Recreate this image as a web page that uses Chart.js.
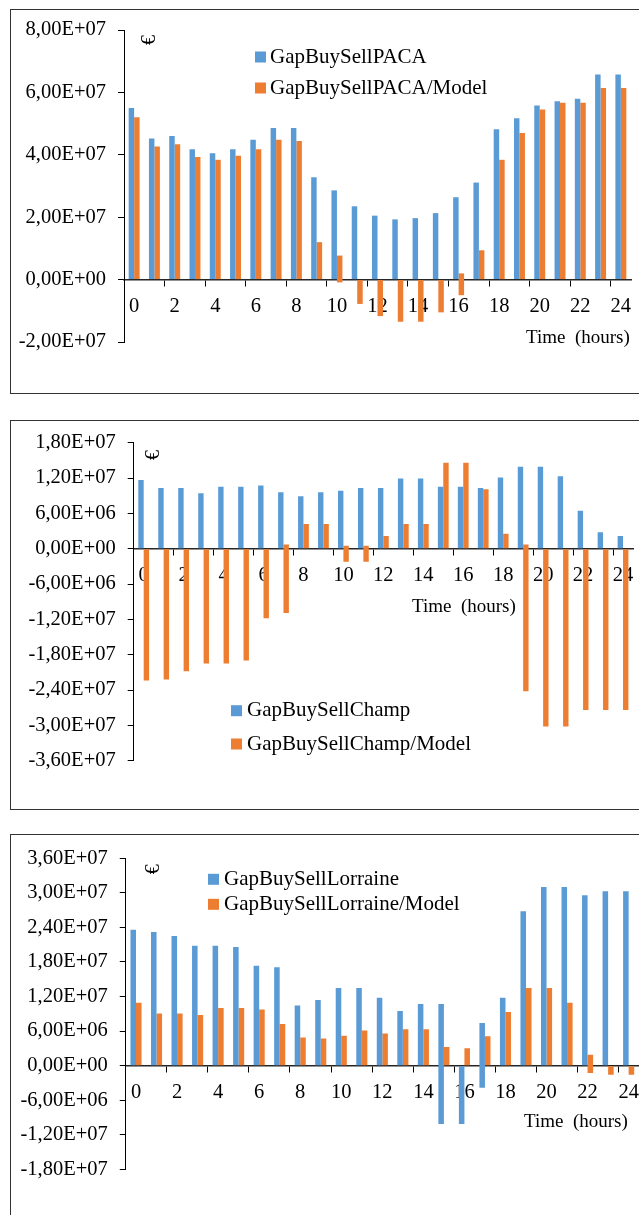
<!DOCTYPE html>
<html lang="fr">
<head>
<meta charset="UTF-8">
<title>GapBuySell</title>
<script src="https://cdn.jsdelivr.net/npm/chart.js@4"></script>
<style>
  html, body { margin: 0; padding: 0; background: #fff; }
  body { width: 639px; height: 1215px; overflow: hidden; position: relative; }
  .frame { position: absolute; left: 10.25px; width: 700px; box-sizing: border-box; border: 1.5px solid #333; }
  canvas { position: absolute; left: 0; }
</style>
</head>
<body>
<div class="frame" style="top:8.5px;height:385px"></div>
<div class="frame" style="top:420.25px;height:389.8px"></div>
<div class="frame" style="top:834.25px;height:500px"></div>
<canvas id="paca" width="660" height="400" style="top:0"></canvas>
<canvas id="champ" width="660" height="412" style="top:400px"></canvas>
<canvas id="lorraine" width="660" height="403" style="top:812px"></canvas>

<script>
// hours on the x axis, labels shown every 2 hours
const hours = ['0','1','2','3','4','5','6','7','8','9','10','11','12','13','14','15','16','17','18','19','20','21','22','23','24'];
const shownHours = ['0','2','4','6','8','10','12','14','16','18','20','22','24'];

// PACA (a pair [low, high] is a bar that crosses zero)
const pacaGap = [5.50e7, 4.52e7, 4.60e7, 4.18e7, 4.05e7, 4.18e7, 4.48e7, 4.86e7, 4.86e7, 3.28e7, 2.86e7, 2.35e7, 2.05e7,
                 1.93e7, 1.97e7, 2.13e7, 2.64e7, 3.11e7, 4.82e7, 5.17e7, 5.58e7, 5.72e7, 5.80e7, 6.57e7, 6.57e7];
const pacaModel = [5.20e7, 4.27e7, 4.34e7, 3.93e7, 3.84e7, 3.97e7, 4.18e7, 4.48e7, 4.44e7, 1.20e7, [-0.09e7, 0.77e7], -0.78e7, -1.17e7,
                   -1.35e7, -1.35e7, -1.05e7, [-0.50e7, 0.20e7], 0.94e7, 3.84e7, 4.70e7, 5.45e7, 5.67e7, 5.67e7, 6.14e7, 6.14e7];
const pacaTicks = [-2e7, 0, 2e7, 4e7, 6e7, 8e7];

// Champagne
const champGap = [1.166e7, 1.03e7, 1.03e7, 0.94e7, 1.05e7, 1.05e7, 1.075e7, 0.96e7, 0.89e7, 0.96e7, 0.985e7, 1.03e7, 1.03e7,
                  1.19e7, 1.19e7, 1.05e7, 1.05e7, 1.03e7, 1.21e7, 1.39e7, 1.39e7, 1.23e7, 0.645e7, 0.28e7, 0.215e7];
const champModel = [-2.24e7, -2.22e7, -2.08e7, -1.95e7, -1.95e7, -1.90e7, -1.18e7, [-1.09e7, 0.07e7], 0.42e7, 0.42e7, [-0.22e7, 0.05e7], [-0.22e7, 0.05e7], 0.215e7,
                    0.42e7, 0.42e7, 1.46e7, 1.46e7, 1.01e7, 0.255e7, [-2.42e7, 0.07e7], -3.02e7, -3.02e7, -2.74e7, -2.74e7, -2.74e7];
const champTicks = [-3.6e7, -3.0e7, -2.4e7, -1.8e7, -1.2e7, -6e6, 0, 6e6, 1.2e7, 1.8e7];

// Lorraine
const lorGap = [2.36e7, 2.32e7, 2.25e7, 2.08e7, 2.08e7, 2.06e7, 1.735e7, 1.71e7, 1.045e7, 1.14e7, 1.35e7, 1.35e7, 1.18e7,
                0.95e7, 1.07e7, [-1.015e7, 1.07e7], -1.015e7, [-0.385e7, 0.74e7], 1.18e7, 2.68e7, 3.10e7, 3.10e7, 2.96e7, 3.03e7, 3.03e7];
const lorModel = [1.09e7, 0.905e7, 0.905e7, 0.88e7, 1.0e7, 1.0e7, 0.975e7, 0.725e7, 0.49e7, 0.47e7, 0.52e7, 0.61e7, 0.56e7,
                  0.63e7, 0.63e7, 0.325e7, 0.30e7, 0.51e7, 0.93e7, 1.35e7, 1.35e7, 1.09e7, [-0.13e7, 0.19e7], -0.16e7, -0.16e7];
const lorTicks = [-1.8e7, -1.2e7, -6e6, 0, 6e6, 1.2e7, 1.8e7, 2.4e7, 3.0e7, 3.6e7];

const BLUE = '#5B9BD5';
const ORANGE = '#ED7D31';
const FONT = '"Liberation Serif", "Times New Roman", serif';

Chart.defaults.font.family = FONT;
Chart.defaults.color = '#000';

// 8,00E+07 style
function sci(v) {
    if (Math.abs(v) < 1) return '0,00E+00';
    const e = Math.floor(Math.log10(Math.abs(v)) + 1e-9);
    const m = v / Math.pow(10, e);
    return m.toFixed(2).replace('.', ',') + 'E' + (e < 0 ? '-' : '+') + String(Math.abs(e)).padStart(2, '0');
}

// euro sign, "Time (hours)" and the legend
const notes = {
    id: 'notes',
    afterDraw(chart, args, o) {
        const ctx = chart.ctx;
        ctx.save();
        ctx.fillStyle = '#000';

        ctx.save();
        ctx.font = '20px ' + FONT;
        ctx.translate(o.euro[0], o.euro[1]);
        ctx.rotate(-Math.PI / 2);
        ctx.textAlign = 'center';
        ctx.textBaseline = 'middle';
        ctx.fillText('€', 0, 0);
        ctx.restore();

        ctx.font = '19px ' + FONT;
        ctx.textAlign = 'left';
        ctx.textBaseline = 'middle';
        ctx.fillText('Time  (hours)', o.time[0], o.time[1]);

        ctx.font = '21px ' + FONT;
        chart.data.datasets.forEach((ds, i) => {
            const y = o.legend.rows[i];
            ctx.fillStyle = ds.backgroundColor;
            ctx.fillRect(o.legend.box, y - 5.5, 11, 11);
            ctx.fillStyle = '#000';
            ctx.fillText(ds.label, o.legend.text, y);
        });
        ctx.restore();
    }
};

// y axis box is 118px wide; padding.left puts the axis line where the reference has it
function makeChart(id, name, gap, model, ticks, pad, noteOpts) {
    return new Chart(document.getElementById(id), {
        type: 'bar',
        data: {
            labels: hours,
            datasets: [
                { label: 'GapBuySell' + name, data: gap, backgroundColor: BLUE },
                { label: 'GapBuySell' + name + '/Model', data: model, backgroundColor: ORANGE }
            ]
        },
        options: {
            responsive: false,
            animation: false,
            layout: { padding: pad },
            categoryPercentage: 0.54,
            barPercentage: 1.0,
            plugins: {
                legend: { display: false },
                tooltip: { enabled: false },
                notes: noteOpts
            },
            scales: {
                x: {
                    position: { y: 0 },
                    z: 1,
                    afterFit: s => { s.height = 0; },
                    border: { display: true, color: '#262626', width: 1.5 },
                    grid: {
                        drawOnChartArea: false,
                        drawTicks: true,
                        tickLength: 6,
                        tickWidth: 1,
                        tickColor: c => (c.index > 0 && c.index % 2 === 0) ? '#000' : 'rgba(0,0,0,0)'
                    },
                    ticks: {
                        autoSkip: false,
                        maxRotation: 0,
                        minRotation: 0,
                        padding: 9,
                        font: { size: 20.5 },
                        callback: function (v, i) {
                            const lab = this.getLabelForValue(v);
                            return shownHours.includes(lab) ? lab : '';
                        }
                    }
                },
                y: {
                    min: ticks[0],
                    max: ticks[ticks.length - 1],
                    afterFit: s => { s.width = 118; },
                    afterBuildTicks: s => { s.ticks = ticks.map(v => ({ value: v })); },
                    border: { display: true, color: '#000', width: 1 },
                    grid: {
                        drawOnChartArea: false,
                        drawTicks: true,
                        tickLength: 6,
                        tickColor: '#000'
                    },
                    ticks: {
                        padding: 12,
                        font: { size: 20.5 },
                        callback: v => sci(v)
                    }
                }
            }
        },
        plugins: [notes]
    });
}

makeChart('paca', 'PACA', pacaGap, pacaModel, pacaTicks,
    { left: 6, right: 29, top: 30, bottom: 58 },
    { euro: [150, 40], time: [526, 338], legend: { box: 255, text: 270, rows: [57, 88] } });

makeChart('champ', 'Champ', champGap, champModel, champTicks,
    { left: 15.7, right: 27, top: 42.7, bottom: 51.3 },
    { euro: [154, 55], time: [412, 206.7], legend: { box: 231, text: 247, rows: [310.7, 344] } });

makeChart('lorraine', 'Lorraine', lorGap, lorModel, lorTicks,
    { left: 7.75, right: 21.1, top: 46.3, bottom: 45.7 },
    { euro: [154, 57.3], time: [524, 309.7], legend: { box: 208, text: 224, rows: [67.3, 92.3] } });
</script>
</body>
</html>
